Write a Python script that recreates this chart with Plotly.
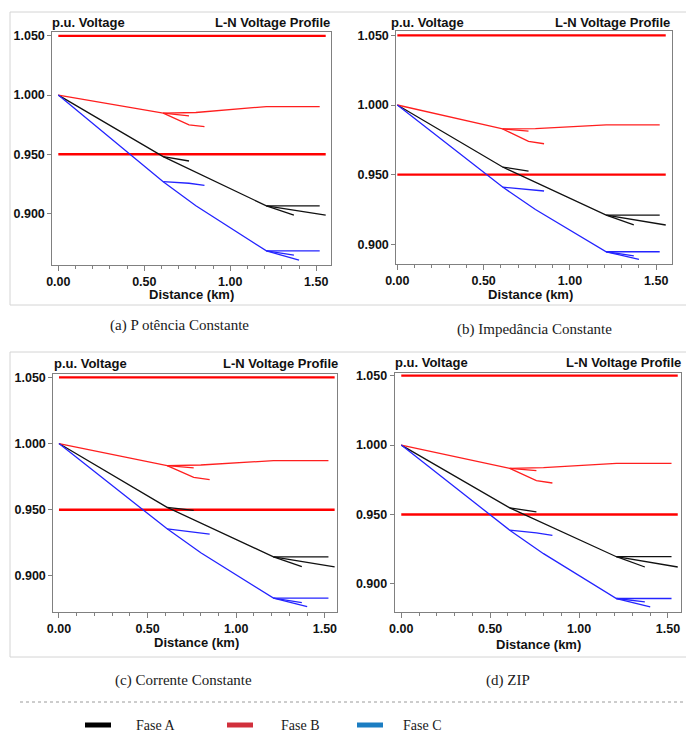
import plotly.graph_objects as go

W, H = 686, 733

# Feeder topology: distance from the substation (km), one polyline per trunk/lateral
KM_FASE_A = [[0.0, 0.61, 1.21, 1.555], [0.61, 0.76], [1.21, 1.52], [1.21, 1.37]]
KM_FASE_B = [[0.0, 0.61, 0.80, 1.21, 1.52], [0.61, 0.76], [0.61, 0.76, 0.85]]
KM_FASE_C = [[0.0, 0.61, 0.80, 1.21, 1.52], [0.61, 0.76, 0.85], [1.21, 1.37], [1.21, 1.40]]

# Line-to-neutral voltages (p.u.) for each load model
PQ_FASE_A = [[1.000, 0.9480, 0.9064, 0.8986], [0.9480, 0.9443], [0.9064, 0.9064], [0.9064, 0.8986]]
PQ_FASE_B = [[1.000, 0.9847, 0.9853, 0.9903, 0.9903], [0.9847, 0.9825], [0.9847, 0.9748, 0.9734]]
PQ_FASE_C = [[1.000, 0.9268, 0.9065, 0.8683, 0.8683], [0.9268, 0.9255, 0.9237], [0.8683, 0.8647], [0.8683, 0.8605]]

Z_FASE_A = [[1.000, 0.9555, 0.9210, 0.9139], [0.9555, 0.9526], [0.9210, 0.9210], [0.9210, 0.9140]]
Z_FASE_B = [[1.000, 0.9828, 0.9830, 0.9857, 0.9857], [0.9828, 0.9813], [0.9828, 0.9739, 0.9722]]
Z_FASE_C = [[1.000, 0.9411, 0.9250, 0.8947, 0.8947], [0.9411, 0.9395, 0.9383], [0.8947, 0.8918], [0.8947, 0.8892]]

I_FASE_A = [[1.000, 0.9518, 0.9144, 0.9068], [0.9518, 0.9495], [0.9144, 0.9144], [0.9144, 0.9070]]
I_FASE_B = [[1.000, 0.9833, 0.9838, 0.9871, 0.9871], [0.9833, 0.9816], [0.9833, 0.9745, 0.9727]]
I_FASE_C = [[1.000, 0.9356, 0.9175, 0.8833, 0.8833], [0.9356, 0.9331, 0.9316], [0.8833, 0.8798], [0.8833, 0.8768]]

ZIP_FASE_A = [[1.000, 0.9548, 0.9196, 0.9122], [0.9548, 0.9519], [0.9196, 0.9196], [0.9196, 0.9122]]
ZIP_FASE_B = [[1.000, 0.9832, 0.9837, 0.9868, 0.9868], [0.9832, 0.9816], [0.9832, 0.9744, 0.9727]]
ZIP_FASE_C = [[1.000, 0.9387, 0.9218, 0.8895, 0.8895], [0.9387, 0.9368, 0.9349], [0.8895, 0.8871], [0.8895, 0.8835]]

# Regulatory voltage limits (p.u.)
LIMITS = [1.05, 0.95]
LIMIT_KM = [0.0, 1.555]

Y_TICKS = [0.900, 0.950, 1.000, 1.050]
X_TICKS = [0.0, 0.5, 1.0, 1.5]

CAPTIONS = ["(a) P otência Constante", "(b) Impedância Constante",
            "(c) Corrente Constante", "(d) ZIP"]
LEGEND_NAMES = ["Fase A", "Fase B", "Fase C"]

COL_A, COL_B, COL_C = "#111111", "#ff1f1f", "#2424ff"
LEGEND_COLORS = ["#000000", "#d1303c", "#1b7dc2"]

# per-panel geometry in pixels: plot box (left, right, top, bottom), axis ranges,
# header text positions and axis title / caption positions
PANELS = [
    dict(data=(PQ_FASE_A, PQ_FASE_B, PQ_FASE_C), box=(52.3, 330.7, 31.7, 265.0),
         xr=(-0.035, 1.584), yr=(0.8564, 1.0536), head=(50.0, 332.0, 23.0),
         xt=(191.7, 295.0), cap=(179.0, 326.0)),
    dict(data=(Z_FASE_A, Z_FASE_B, Z_FASE_C), box=(396.3, 672.3, 31.0, 264.3),
         xr=(-0.006, 1.593), yr=(0.8857, 1.0531), head=(389.5, 671.5, 23.0),
         xt=(530.7, 295.0), cap=(534.0, 329.0)),
    dict(data=(I_FASE_A, I_FASE_B, I_FASE_C), box=(53.3, 337.3, 374.3, 611.7),
         xr=(-0.032, 1.570), yr=(0.8730, 1.0523), head=(52.0, 339.5, 363.3),
         xt=(196.3, 642.7), cap=(183.0, 680.0)),
    dict(data=(ZIP_FASE_A, ZIP_FASE_B, ZIP_FASE_C), box=(394.7, 681.3, 373.3, 611.7),
         xr=(-0.037, 1.575), yr=(0.8800, 1.0517), head=(392.5, 682.5, 362.3),
         xt=(538.8, 644.0), cap=(508.0, 680.0)),
]


def px(x):
    return x / W


def py(y):
    return 1 - y / H


fig = go.Figure()
annotations = []
shapes = []
SANS = "Liberation Sans, Arial, sans-serif"
SERIF = "Liberation Serif, Times New Roman, serif"

for i, p in enumerate(PANELS):
    s = "" if i == 0 else str(i + 1)
    xa, ya = "x" + s, "y" + s
    # limit lines
    for lim in LIMITS:
        fig.add_trace(go.Scatter(x=LIMIT_KM, y=[lim, lim], mode="lines",
                                 line=dict(color="#ff0000", width=2.3),
                                 xaxis=xa, yaxis=ya, showlegend=False, hoverinfo="skip"))
    # phase profiles
    for kms, volts, col in zip((KM_FASE_A, KM_FASE_B, KM_FASE_C), p["data"], (COL_A, COL_B, COL_C)):
        for km, v in zip(kms, volts):
            fig.add_trace(go.Scatter(x=km, y=v, mode="lines",
                                     line=dict(color=col, width=1.3),
                                     xaxis=xa, yaxis=ya, showlegend=False))

    l, r, t, b = p["box"]
    axis_common = dict(showline=True, linecolor="#808080", linewidth=1, mirror=True,
                       showgrid=False, zeroline=False, ticks="outside", tickcolor="#808080",
                       automargin=False,
                       tickfont=dict(family=SANS, size=12.5, color="#111111", weight="bold"))
    fig.update_layout(**{
        "xaxis" + s: dict(domain=[px(l), px(r)], range=list(p["xr"]), anchor=ya,
                          tickvals=X_TICKS, tickformat=".2f", ticklen=5,
                          minor=dict(dtick=0.1, ticks="outside", ticklen=3, tickcolor="#808080"),
                          **axis_common),
        "yaxis" + s: dict(domain=[py(b), py(t)], range=list(p["yr"]), anchor=xa,
                          tickvals=Y_TICKS, tickformat=".3f", ticklen=4, **axis_common),
    })

    hl, hr, hy = p["head"]
    annotations.append(dict(text="<b>p.u. Voltage</b>", x=px(hl), y=py(hy), xref="paper", yref="paper",
                            xanchor="left", yanchor="middle", showarrow=False,
                            font=dict(family=SANS, size=13, color="#111111")))
    annotations.append(dict(text="<b>L-N Voltage Profile</b>", x=px(hr), y=py(hy), xref="paper",
                            yref="paper", xanchor="right", yanchor="middle", showarrow=False,
                            font=dict(family=SANS, size=13, color="#111111")))
    annotations.append(dict(text="<b>Distance (km)</b>", x=px(p["xt"][0]), y=py(p["xt"][1]),
                            xref="paper", yref="paper", xanchor="center", yanchor="middle",
                            showarrow=False, font=dict(family=SANS, size=13, color="#111111")))
    annotations.append(dict(text=CAPTIONS[i], x=px(p["cap"][0]), y=py(p["cap"][1]),
                            xref="paper", yref="paper", xanchor="center", yanchor="middle",
                            showarrow=False, font=dict(family=SERIF, size=15, color="#1a1a1a")))

# light frames around the screenshot panels
FRAME = "#d4d4d4"
for top, bot in ((12, 305), (352, 657)):
    shapes.append(dict(type="line", xref="paper", yref="paper", x0=px(10), x1=1, y0=py(top), y1=py(top),
                       line=dict(color=FRAME, width=1)))
    shapes.append(dict(type="line", xref="paper", yref="paper", x0=px(10), x1=1, y0=py(bot), y1=py(bot),
                       line=dict(color=FRAME, width=1)))
    shapes.append(dict(type="line", xref="paper", yref="paper", x0=px(10), x1=px(10), y0=py(top), y1=py(bot),
                       line=dict(color=FRAME, width=1)))

# dotted separator above the legend
shapes.append(dict(type="line", xref="paper", yref="paper", x0=px(20), x1=1, y0=py(702), y1=py(702),
                   line=dict(color="#9a9a9a", width=1, dash="dot")))

# legend swatches and labels
for (x0, x1, tx), name, col in zip(((85, 111, 134), (227, 253, 279), (357, 383, 401)),
                                   LEGEND_NAMES, LEGEND_COLORS):
    shapes.append(dict(type="line", xref="paper", yref="paper", x0=px(x0), x1=px(x1),
                       y0=py(725), y1=py(725), line=dict(color=col, width=5)))
    annotations.append(dict(text=name, x=px(tx), y=py(725), xref="paper", yref="paper",
                            xanchor="left", yanchor="middle", showarrow=False,
                            font=dict(family=SERIF, size=14, color="#1a1a1a")))

fig.update_layout(width=W, height=H, margin=dict(l=0, r=0, t=0, b=0, autoexpand=False),
                  paper_bgcolor="white", plot_bgcolor="white",
                  annotations=annotations, shapes=shapes, showlegend=False)

fig.write_html("out.html")
